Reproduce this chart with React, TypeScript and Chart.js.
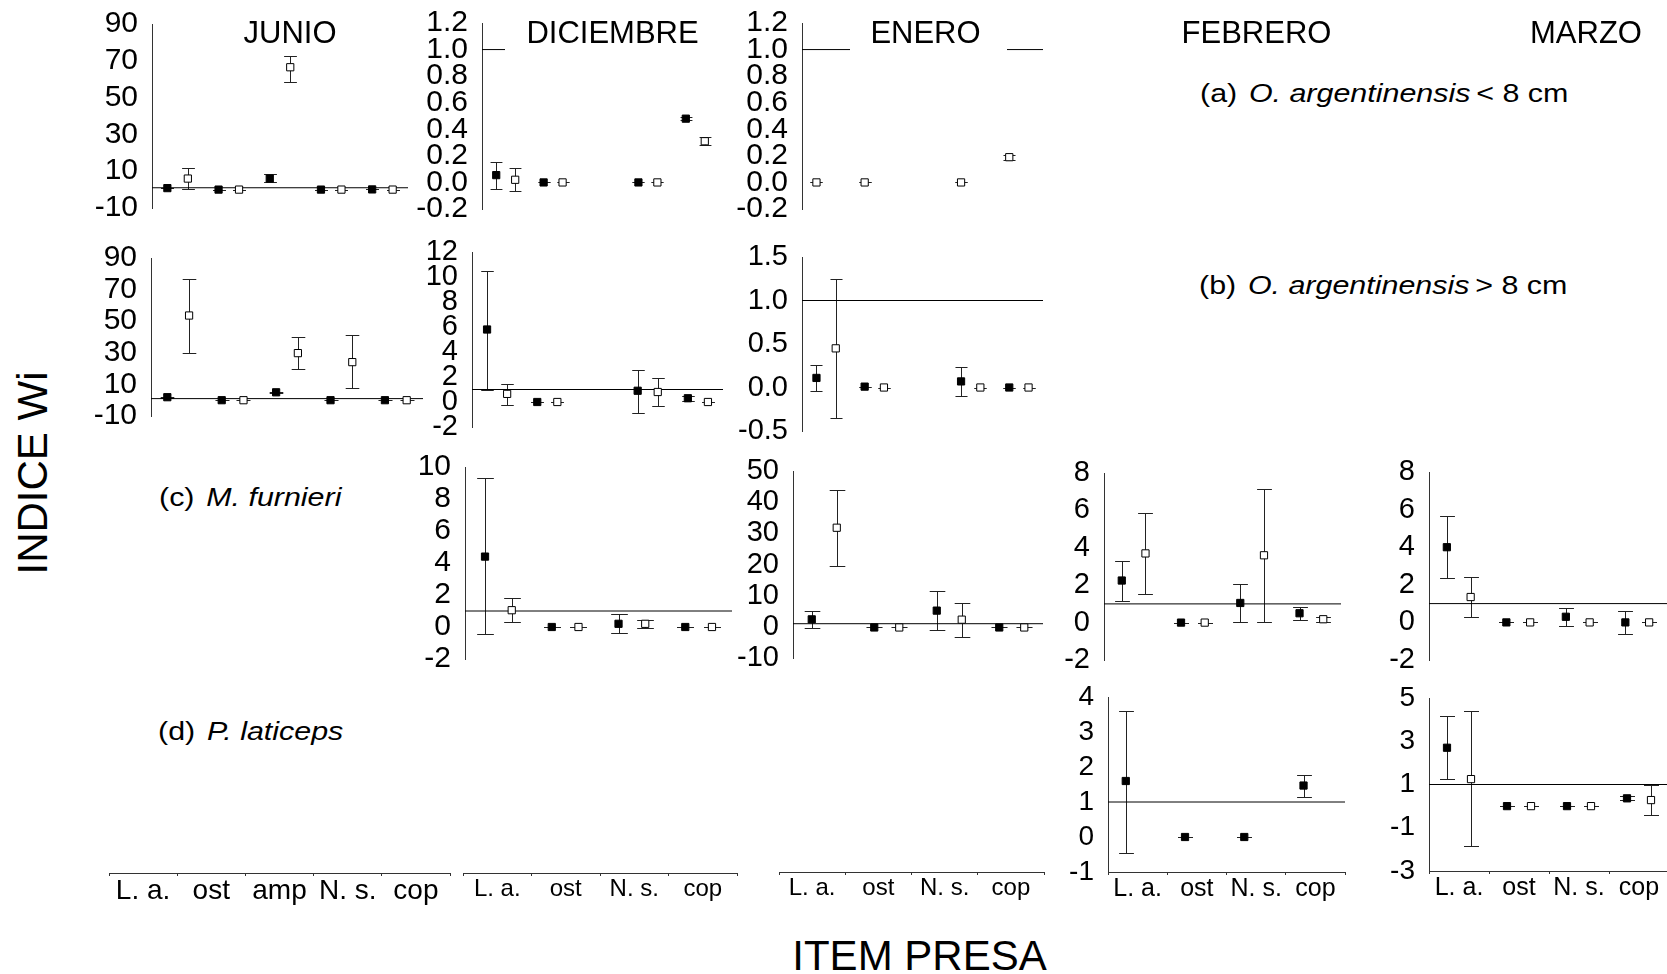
import React, { useEffect, useRef } from 'react';
import { Chart, registerables } from 'chart.js';

Chart.register(...registerables);

type Stat = [number, number, number] | null; // [mean, lower, upper]

const FONT = "'Liberation Sans', Arial, Helvetica, sans-serif";

// ---------- categories & text ----------
const PREY_5 = ['L. a.', 'ost', 'amp', 'N. s.', 'cop'];
const PREY_4 = ['L. a.', 'ost', 'N. s.', 'cop'];
const MONTHS = ['JUNIO', 'DICIEMBRE', 'ENERO', 'FEBRERO', 'MARZO'];
const Y_TITLE = 'INDICE Wi';
const X_TITLE = 'ITEM PRESA';
const REF_VALUE = 1;

// ---------- y tick values ----------
const TICKS_JUN = [-10, 10, 30, 50, 70, 90];
const TICKS_SMALL = [-0.2, 0, 0.2, 0.4, 0.6, 0.8, 1.0, 1.2];
const TICKS_DIC_B = [-2, 0, 2, 4, 6, 8, 10, 12];
const TICKS_ENE_B = [-0.5, 0, 0.5, 1.0, 1.5];
const TICKS_DIC_C = [-2, 0, 2, 4, 6, 8, 10];
const TICKS_ENE_C = [-10, 0, 10, 20, 30, 40, 50];
const TICKS_FEB_MAR_C = [-2, 0, 2, 4, 6, 8];
const TICKS_FEB_D = [-1, 0, 1, 2, 3, 4];
const TICKS_MAR_D = [-3, -1, 1, 3, 5];

// ---------- data: [mean, lower, upper] per prey item ----------
// (a) O. argentinensis < 8 cm
const JUN_A_FILLED: Stat[] = [[0.8, 0.6, 1.0], [0, 0, 0], [6, 4, 8.6], [0, 0, 0], [0.1, 0.1, 0.1]];
const JUN_A_OPEN: Stat[] = [[6, 0.3, 12], [0, 0, 0], [66.5, 58.4, 72.6], [0, 0, 0], [0, 0, 0]];
const DIC_A_FILLED: Stat[] = [[0.055, -0.05, 0.155], [0, 0, 0], null, [0, 0, 0], [0.48, 0.47, 0.49]];
const DIC_A_OPEN: Stat[] = [[0.02, -0.065, 0.105], [0, 0, 0], null, [0, 0, 0], [0.31, 0.28, 0.345]];
const ENE_A_VALUES: Stat[] = [[0, 0, 0], [0, 0, 0], null, [0, 0, 0], [0.19, 0.17, 0.21]];
// (b) O. argentinensis > 8 cm
const JUN_B_FILLED: Stat[] = [[1.9, 1.6, 2.2], [0, 0, 0], [5.0, 4.7, 5.3], [0, 0, 0], [0, 0, 0]];
const JUN_B_OPEN: Stat[] = [[53.6, 29.8, 76.7], [0, 0, 0], [29.8, 19.6, 39.7], [24.1, 7.6, 41.2], [0, 0, 0]];
const DIC_B_FILLED: Stat[] = [[5.8, 0.95, 10.5], [0, 0, 0], null, [0.9, -0.85, 2.55], [0.3, 0.1, 0.45]];
const DIC_B_OPEN: Stat[] = [[0.65, -0.2, 1.45], [0, 0, 0], null, [0.8, -0.33, 1.95], [0, 0, 0]];
const ENE_B_FILLED: Stat[] = [[0.11, -0.04, 0.26], [0.01, 0.01, 0.01], null, [0.07, -0.1, 0.24], [0, 0, 0]];
const ENE_B_OPEN: Stat[] = [[0.45, -0.35, 1.25], [0, 0, 0], null, [0, 0, 0], [0, 0, 0]];
// (c) M. furnieri
const DIC_C_FILLED: Stat[] = [[4.4, -0.45, 9.3], [0, 0, 0], [0.2, -0.4, 0.8], [0, 0, 0]];
const DIC_C_OPEN: Stat[] = [[1.05, 0.3, 1.8], [0, 0, 0], [0.2, -0.05, 0.45], [0, 0, 0]];
const ENE_C_FILLED: Stat[] = [[2.4, -0.3, 5.2], [-0.2, -0.2, -0.2], [5.2, -1.1, 11.5], [-0.2, -0.2, -0.2]];
const ENE_C_OPEN: Stat[] = [[31.8, 19.5, 44], [-0.2, -0.2, -0.2], [2.3, -3.2, 7.8], [-0.2, -0.2, -0.2]];
const FEB_C_FILLED: Stat[] = [[2.25, 1.15, 3.3], [0, 0, 0], [1.05, 0.05, 2.05], [0.5, 0.16, 0.86]];
const FEB_C_OPEN: Stat[] = [[3.7, 1.55, 5.85], [0, 0, 0], [3.6, 0.05, 7.15], [0.18, 0.02, 0.32]];
const MAR_C_FILLED: Stat[] = [[4.0, 2.35, 5.65], [0, 0, 0], [0.3, -0.2, 0.75], [0, -0.6, 0.58]];
const MAR_C_OPEN: Stat[] = [[1.35, 0.3, 2.4], [0, 0, 0], [0, 0, 0], [0, 0, 0]];
// (d) P. laticeps
const FEB_D_FILLED: Stat[] = [[1.6, -0.45, 3.6], [0, 0, 0], [0, 0, 0], [1.47, 1.15, 1.76]];
const MAR_D_FILLED: Stat[] = [[2.7, 1.25, 4.15], [0, 0, 0], [0, 0, 0], [0.36, 0.27, 0.45]];
const MAR_D_OPEN: Stat[] = [[1.25, -1.85, 4.4], [0, 0, 0], [0, 0, 0], [0.28, -0.42, 0.96]];

// ---------- styling constants ----------
const AXIS_COLOR = '#333';
const ERR_COLOR = '#222';
const OFFSET = 0.2; // offset of the two markers from slot centre (slot units)
const CAP_HALF = 0.125; // half width of error-bar caps (slot units)
const MARKER_R = 5.1;
const AXW = 80; // y-axis box width
const XAH = 45; // x-axis box height
const PT = 30;
const PB = 30;
const PR = 12;

interface Series { stats: Stat[]; side: number; open: boolean }
interface PanelCfg {
  x0: number; x1: number; yTop: number; yBot: number;
  ticks: number[]; dec: number; slots: number; font: number;
  series: Series[];
  xLabels?: string[]; xFont?: number;
}
interface AxisCfg { x0: number; x1: number; y: number; labels: string[]; font: number }

const F = (stats: Stat[]): Series => ({ stats, side: -1, open: false });
const O = (stats: Stat[]): Series => ({ stats, side: 1, open: true });

const PANELS: PanelCfg[] = [
  { x0: 152, x1: 408, yTop: 24, yBot: 208, ticks: TICKS_JUN, dec: 0, slots: 5, font: 30, series: [F(JUN_A_FILLED), O(JUN_A_OPEN)] },
  { x0: 151, x1: 423, yTop: 258, yBot: 416, ticks: TICKS_JUN, dec: 0, slots: 5, font: 30, series: [F(JUN_B_FILLED), O(JUN_B_OPEN)] },
  { x0: 482, x1: 719, yTop: 23, yBot: 209, ticks: TICKS_SMALL, dec: 1, slots: 5, font: 30, series: [F(DIC_A_FILLED), O(DIC_A_OPEN)] },
  { x0: 472, x1: 723, yTop: 252, yBot: 427, ticks: TICKS_DIC_B, dec: 0, slots: 5, font: 29, series: [F(DIC_B_FILLED), O(DIC_B_OPEN)] },
  { x0: 802, x1: 1043, yTop: 23, yBot: 209, ticks: TICKS_SMALL, dec: 1, slots: 5, font: 30, series: [{ stats: ENE_A_VALUES, side: -1, open: true }] },
  { x0: 802, x1: 1043, yTop: 257, yBot: 431, ticks: TICKS_ENE_B, dec: 1, slots: 5, font: 29, series: [F(ENE_B_FILLED), O(ENE_B_OPEN)] },
  { x0: 465, x1: 732, yTop: 467, yBot: 659, ticks: TICKS_DIC_C, dec: 0, slots: 4, font: 30, series: [F(DIC_C_FILLED), O(DIC_C_OPEN)] },
  { x0: 793, x1: 1043, yTop: 471, yBot: 658, ticks: TICKS_ENE_C, dec: 0, slots: 4, font: 29, series: [F(ENE_C_FILLED), O(ENE_C_OPEN)] },
  { x0: 1104, x1: 1341, yTop: 473, yBot: 660, ticks: TICKS_FEB_MAR_C, dec: 0, slots: 4, font: 29, series: [F(FEB_C_FILLED), O(FEB_C_OPEN)] },
  { x0: 1429, x1: 1667, yTop: 472, yBot: 660, ticks: TICKS_FEB_MAR_C, dec: 0, slots: 4, font: 29, series: [F(MAR_C_FILLED), O(MAR_C_OPEN)] },
  { x0: 1108, x1: 1345, yTop: 697, yBot: 872, ticks: TICKS_FEB_D, dec: 0, slots: 4, font: 28, series: [F(FEB_D_FILLED)], xLabels: PREY_4, xFont: 25 },
  { x0: 1429, x1: 1669, yTop: 698, yBot: 871, ticks: TICKS_MAR_D, dec: 0, slots: 4, font: 28, series: [F(MAR_D_FILLED), O(MAR_D_OPEN)], xLabels: PREY_4, xFont: 25 },
];

const BOTTOM_AXES: AxisCfg[] = [
  { x0: 109, x1: 450, y: 873, labels: PREY_5, font: 28 },
  { x0: 463, x1: 737, y: 873, labels: PREY_4, font: 24 },
  { x0: 779, x1: 1044, y: 872, labels: PREY_4, font: 24 },
];

const TITLE_X = [290, 612.5, 925.5, 1256.5, 1586];
const TITLE_CY = 32;
const TITLE_COVERS = [
  { left: 505, top: 8, width: 217, height: 50 },
  { left: 850, top: 8, width: 157, height: 50 },
];

const errorBars = {
  id: 'errorBars',
  beforeDatasetsDraw(chart: any) {
    const { ctx } = chart;
    const xs = chart.scales.x;
    const ys = chart.scales.y;
    const cap = Math.abs(xs.getPixelForValue(CAP_HALF) - xs.getPixelForValue(0));
    ctx.save();
    ctx.strokeStyle = ERR_COLOR;
    ctx.lineWidth = 1;
    chart.data.datasets.forEach((ds: any) => {
      if (!ds.errors) return;
      ds.data.forEach((pt: any, j: number) => {
        const e = ds.errors[j];
        const px = Math.round(xs.getPixelForValue(pt.x)) + 0.5;
        const lo = Math.round(ys.getPixelForValue(e[0])) + 0.5;
        const hi = Math.round(ys.getPixelForValue(e[1])) + 0.5;
        ctx.beginPath();
        ctx.moveTo(px, lo);
        ctx.lineTo(px, hi);
        ctx.moveTo(px - cap, lo);
        ctx.lineTo(px + cap, lo);
        ctx.moveTo(px - cap, hi);
        ctx.lineTo(px + cap, hi);
        ctx.stroke();
      });
    });
    ctx.restore();
  },
};

function categoryAxis(labels: string[], font: number) {
  return {
    type: 'category',
    axis: 'x',
    position: 'bottom',
    labels,
    offset: true,
    grid: { display: true, drawOnChartArea: false, drawTicks: true, tickLength: 3, offset: true, color: AXIS_COLOR },
    border: { display: true, color: AXIS_COLOR, width: 1 },
    ticks: { autoSkip: false, maxRotation: 0, minRotation: 0, padding: 0, color: '#000', font: { family: FONT, size: font, lineHeight: 1.1 } },
    afterFit: (ax: any) => { ax.height = XAH; },
  };
}

function panelGeom(p: PanelCfg) {
  const left = p.x0 - AXW;
  const top = p.yTop - PT;
  const w = AXW + (p.x1 - p.x0) + PR;
  const h = PT + (p.yBot - p.yTop) + (p.xLabels ? XAH + 5 : PB);
  return { left, top, w, h };
}

function buildConfig(p: PanelCfg): any {
  const datasets: any[] = [];
  p.series.forEach((s) => {
    const data: { x: number; y: number }[] = [];
    const errors: [number, number][] = [];
    s.stats.forEach((st, i) => {
      if (!st) return;
      data.push({ x: i + s.side * OFFSET, y: st[0] });
      errors.push([st[1], st[2]]);
    });
    datasets.push({
      type: 'scatter', data, errors, xAxisID: 'x', yAxisID: 'y',
      pointStyle: 'rect', pointRadius: MARKER_R, pointHoverRadius: MARKER_R,
      pointBackgroundColor: s.open ? '#fff' : '#000', pointBorderColor: '#000', pointBorderWidth: 1,
      showLine: false, clip: false,
    });
  });
  datasets.push({
    type: 'line', data: [{ x: -0.5, y: REF_VALUE }, { x: p.slots - 0.5, y: REF_VALUE }],
    xAxisID: 'x', yAxisID: 'y', borderColor: '#000', borderWidth: 1, pointRadius: 0, fill: false, clip: false,
  });
  const scales: any = {
    x: { type: 'linear', min: -0.5, max: p.slots - 0.5, display: false },
    y: {
      type: 'linear', position: 'left',
      min: p.ticks[0], max: p.ticks[p.ticks.length - 1],
      afterBuildTicks: (ax: any) => { ax.ticks = p.ticks.map((v) => ({ value: v })); },
      afterFit: (ax: any) => { ax.width = AXW; },
      grid: { display: false },
      border: { display: true, color: AXIS_COLOR, width: 1 },
      ticks: {
        autoSkip: false, padding: 6, color: '#000',
        font: { family: FONT, size: p.font, lineHeight: 1.2 },
        callback: (v: any) => Number(v).toFixed(p.dec),
      },
    },
  };
  if (p.xLabels) scales.xc = categoryAxis(p.xLabels, p.xFont || 25);
  return {
    type: 'scatter',
    data: { datasets },
    options: {
      animation: false, responsive: false, devicePixelRatio: 1, events: [],
      layout: { padding: { left: 0, top: PT, right: PR, bottom: p.xLabels ? 5 : PB } },
      plugins: { legend: { display: false }, tooltip: { enabled: false } },
      scales,
    },
    plugins: [errorBars],
  };
}

function DataPanel({ cfg }: { cfg: PanelCfg }) {
  const ref = useRef<HTMLCanvasElement>(null);
  const g = panelGeom(cfg);
  useEffect(() => {
    const chart = new Chart(ref.current as HTMLCanvasElement, buildConfig(cfg));
    return () => chart.destroy();
  }, []);
  return (
    <canvas ref={ref} width={g.w} height={g.h}
      style={{ position: 'absolute', left: g.left, top: g.top, width: g.w, height: g.h }} />
  );
}

function AxisOnly({ cfg }: { cfg: AxisCfg }) {
  const ref = useRef<HTMLCanvasElement>(null);
  const left = cfg.x0 - 10;
  const top = cfg.y - 20;
  const w = 10 + (cfg.x1 - cfg.x0) + 10;
  const h = 20 + XAH + 5;
  useEffect(() => {
    const chart = new Chart(ref.current as HTMLCanvasElement, {
      type: 'scatter',
      data: { datasets: [] },
      options: {
        animation: false, responsive: false, devicePixelRatio: 1, events: [],
        layout: { padding: { left: 10, top: 10, right: 10, bottom: 5 } },
        plugins: { legend: { display: false }, tooltip: { enabled: false } },
        scales: {
          x: categoryAxis(cfg.labels, cfg.font),
          y: { display: false },
        },
      },
    } as any);
    return () => chart.destroy();
  }, []);
  return (
    <canvas ref={ref} width={w} height={h}
      style={{ position: 'absolute', left, top, width: w, height: h }} />
  );
}

function RowLabel({ left, cy, tag, name, suffix }: { left: number; cy: number; tag: string; name: string; suffix?: string }) {
  const fs = 26;
  return (
    <div style={{
      position: 'absolute', left, top: cy - fs / 2, fontSize: fs, lineHeight: fs + 'px',
      whiteSpace: 'nowrap', transform: 'scaleX(1.17)', transformOrigin: '0 50%',
    }}>
      <span>{tag}</span>
      <i style={{ marginLeft: 10 }}>{name}</i>
      {suffix ? <span style={{ marginLeft: 5 }}>{suffix}</span> : null}
    </div>
  );
}

export default function App() {
  const tf = 31;
  return (
    <div style={{
      position: 'absolute', left: 0, top: 0, width: 1667, height: 974, overflow: 'hidden',
      background: '#fff', fontFamily: FONT, color: '#000',
    }}>
      {PANELS.map((p, i) => <DataPanel key={'p' + i} cfg={p} />)}
      {BOTTOM_AXES.map((a, i) => <AxisOnly key={'a' + i} cfg={a} />)}
      {TITLE_COVERS.map((c, i) => (
        <div key={'c' + i} style={{ position: 'absolute', left: c.left, top: c.top, width: c.width, height: c.height, background: '#fff' }} />
      ))}
      {MONTHS.map((m, i) => (
        <div key={'t' + i} style={{
          position: 'absolute', left: TITLE_X[i] - 150, width: 300, top: TITLE_CY - tf / 2,
          fontSize: tf, lineHeight: tf + 'px', textAlign: 'center', whiteSpace: 'nowrap',
        }}>{m}</div>
      ))}
      <RowLabel left={1199.5} cy={92.5} tag="(a)" name="O. argentinensis" suffix="< 8 cm" />
      <RowLabel left={1199} cy={285} tag="(b)" name="O. argentinensis" suffix="> 8 cm" />
      <RowLabel left={159} cy={497} tag="(c)" name="M. furnieri" />
      <RowLabel left={158} cy={730.5} tag="(d)" name="P. laticeps" />
      <div style={{
        position: 'absolute', left: 32.5 - 200, top: 473 - 21, width: 400, height: 42,
        fontSize: 42, lineHeight: '42px', textAlign: 'center', whiteSpace: 'nowrap',
        transform: 'rotate(-90deg)', transformOrigin: '50% 50%',
      }}>{Y_TITLE}</div>
      <div style={{
        position: 'absolute', left: 919.5 - 300, top: 956 - 21, width: 600,
        fontSize: 42, lineHeight: '42px', textAlign: 'center', whiteSpace: 'nowrap',
      }}>{X_TITLE}</div>
    </div>
  );
}
